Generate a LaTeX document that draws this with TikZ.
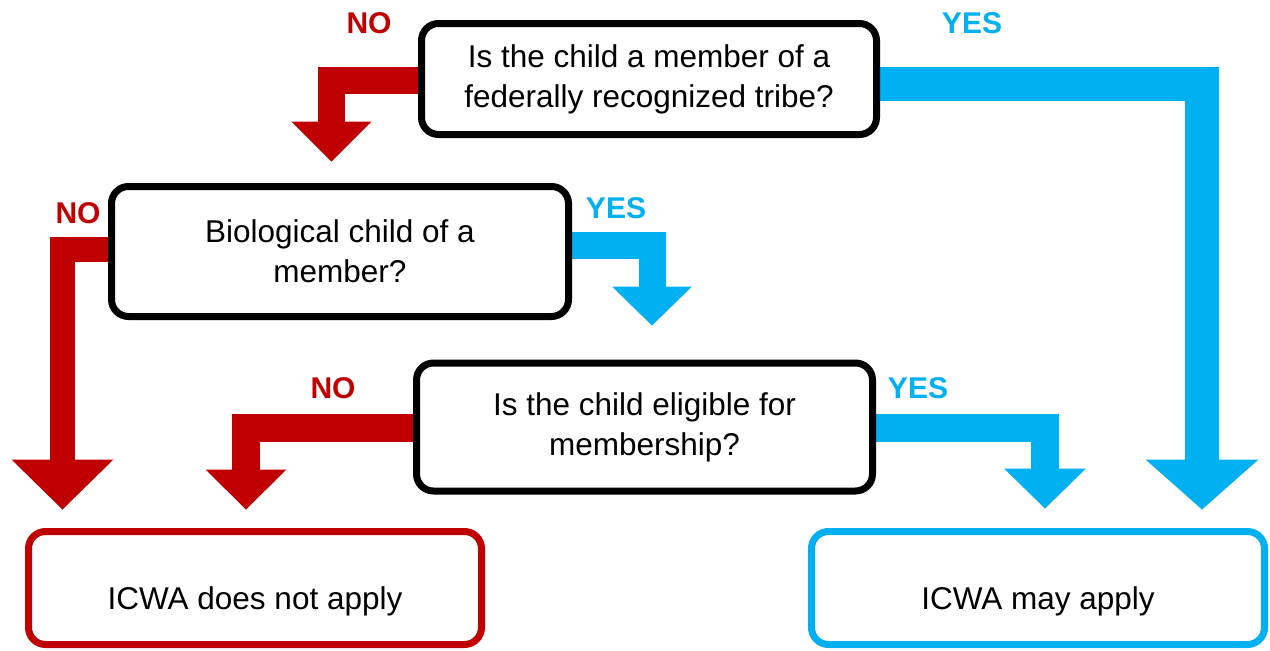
\documentclass[tikz,border=0pt]{standalone}
\usepackage{fontspec}
\setmainfont{Liberation Sans}
\usetikzlibrary{arrows.meta,backgrounds}
\definecolor{cred}{HTML}{C00000}
\definecolor{cblue}{HTML}{00B0F0}
\tikzset{
  qbox/.style={draw=black, line width=7pt, rounded corners=17pt, fill=white, align=center,
    inner sep=0pt, font=\fontsize{31.5}{40}\selectfont},
  rbox/.style={qbox, draw=cred, text height=46pt, text depth=4pt},
  bbox/.style={qbox, draw=cblue, text height=46pt, text depth=4pt},
  flow/.style={line join=miter, line cap=butt},
  rflow/.style={flow, draw=cred},
  bflow/.style={flow, draw=cblue},
  lab/.style={font=\fontsize{30}{36}\selectfont\bfseries, inner sep=0pt},
}
\begin{document}
\begin{tikzpicture}[x=1pt,y=-1pt]
\useasboundingbox (0,0) rectangle (1270,651);
% nodes
\node[qbox, minimum width=455pt, minimum height=111pt] (b1) at (649,79) {Is the child a member of a\\federally recognized tribe?};
\node[qbox, minimum width=457pt, minimum height=130pt] (b2) at (340,251.5) {Biological child of a\\member?};
\node[qbox, minimum width=456pt, minimum height=128pt] (b3) at (644.5,427) {Is the child eligible for\\membership?};
\node[rbox, minimum width=453pt, minimum height=113pt] (b4) at (255,588) {ICWA does not apply};
\node[bbox, minimum width=453pt, minimum height=113pt] (b5) at (1038,588) {ICWA may apply};
% connectors (behind boxes)
\begin{scope}[on background layer]
\draw[rflow, line width=27pt, -{Triangle[length=40pt,width=80pt,line width=0pt]}]
  ([yshift=-1.5pt]b1.west) -| ([xshift=-8.5pt,yshift=21.5pt]b2.north);
\draw[rflow, line width=25pt, -{Triangle[length=50pt,width=102pt,line width=0pt]}]
  ([yshift=2pt]b2.west) -| ([xshift=-192.5pt,yshift=18.5pt]b4.north);
\draw[bflow, line width=27pt, -{Triangle[length=39pt,width=80pt,line width=0pt]}]
  ([yshift=6pt]b2.east) -| ([xshift=7.5pt,yshift=34pt]b3.north);
\draw[rflow, line width=28pt, -{Triangle[length=40pt,width=81pt,line width=0pt]}]
  ([yshift=-1pt]b3.west) -| ([xshift=-9pt,yshift=18.5pt]b4.north);
\draw[bflow, line width=34pt, -{Triangle[length=50pt,width=113pt,line width=0pt]}]
  ([yshift=-5pt]b1.east) -| ([xshift=164pt,yshift=18.5pt]b5.north);
\draw[bflow, line width=28pt, -{Triangle[length=40pt,width=82pt,line width=0pt]}]
  ([yshift=-1pt]b3.east) -| ([xshift=7pt,yshift=19.5pt]b5.north);
\end{scope}
% labels
\node[lab, text=cred] (n1) at (369,23) {NO};
\node[lab, text=cblue] (y1) at (972,23) {YES};
\node[lab, text=cred] (n2) at (78,213) {NO};
\node[lab, text=cblue] (y2) at (616,208) {YES};
\node[lab, text=cred] (n3) at (333,388) {NO};
\node[lab, text=cblue] (y3) at (918,388) {YES};
\end{tikzpicture}
\end{document}
